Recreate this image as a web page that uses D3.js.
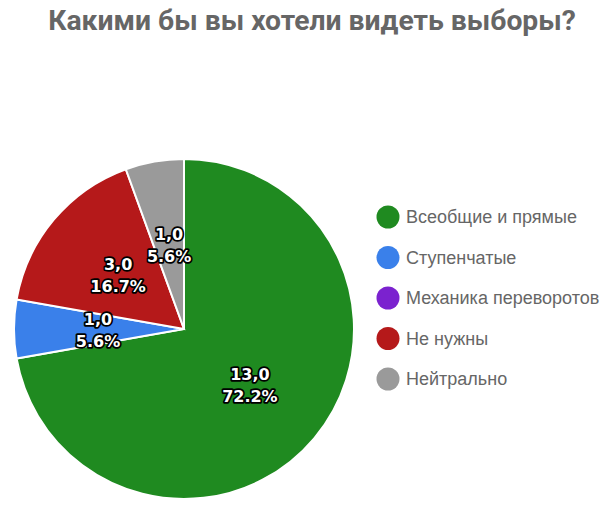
<!DOCTYPE html>
<html><head><meta charset="utf-8">
<script src="https://cdn.jsdelivr.net/npm/d3@7"></script>
<style>body{margin:0;background:#fff}</style>
</head><body>
<svg id="c" width="614" height="518"></svg>
<script>
const title = "Какими бы вы хотели видеть выборы?";
const categories = ["Всеобщие и прямые","Ступенчатые","Механика переворотов","Не нужны","Нейтрально"];
const values = [13, 1, 0, 3, 1];
const colors = ["#1f8a20","#3a80ea","#7b22cf","#b5191a","#9a9a9a"];

const svg = d3.select("#c");
svg.append("text").attr("x",312).attr("y",30).attr("text-anchor","middle")
  .attr("font-family","Roboto, sans-serif").attr("font-weight","bold").attr("font-size",28.3)
  .attr("fill","#666").text(title);

const cx=184, cy=329, R=170;
const total = d3.sum(values);
const pie = d3.pie().sort(null).value(d=>d)(values);
const arc = d3.arc().innerRadius(0).outerRadius(R);
const lab = d3.arc().innerRadius(R*0.506).outerRadius(R*0.506);
const g = svg.append("g").attr("transform",`translate(${cx},${cy})`);
g.selectAll("path").data(pie.filter(d=>d.value>0)).join("path")
  .attr("d",arc).attr("fill",d=>colors[d.index]).attr("stroke","#fff").attr("stroke-width",2);

const fmt = d3.format(".1f");
pie.filter(d=>d.value>0).forEach(d=>{
  const [x,y]=lab.centroid(d);
  const t = g.append("text").attr("x",x).attr("y",y).attr("text-anchor","middle")
    .attr("font-family","'DejaVu Sans', sans-serif").attr("font-weight","bold").attr("font-size",16)
    .attr("fill","#fff").attr("stroke","#000").attr("stroke-width",3.5).attr("stroke-linejoin","round")
    .attr("paint-order","stroke");
  t.append("tspan").attr("x",x).attr("dy","-0.25em").text(fmt(d.value).replace(".",","));
  t.append("tspan").attr("x",x).attr("dy","1.38em").text(fmt(d.value/total*100)+"%");
});

const leg = svg.append("g");
categories.forEach((c,i)=>{
  const y = 217 + i*40.5;
  leg.append("circle").attr("cx",388).attr("cy",y).attr("r",11.5).attr("fill",colors[i]);
  leg.append("text").attr("x",406).attr("y",y+6).attr("font-family","'Liberation Sans', Arial, sans-serif")
    .attr("font-size",18).attr("fill","#666").text(c);
});
</script>
</body></html>
